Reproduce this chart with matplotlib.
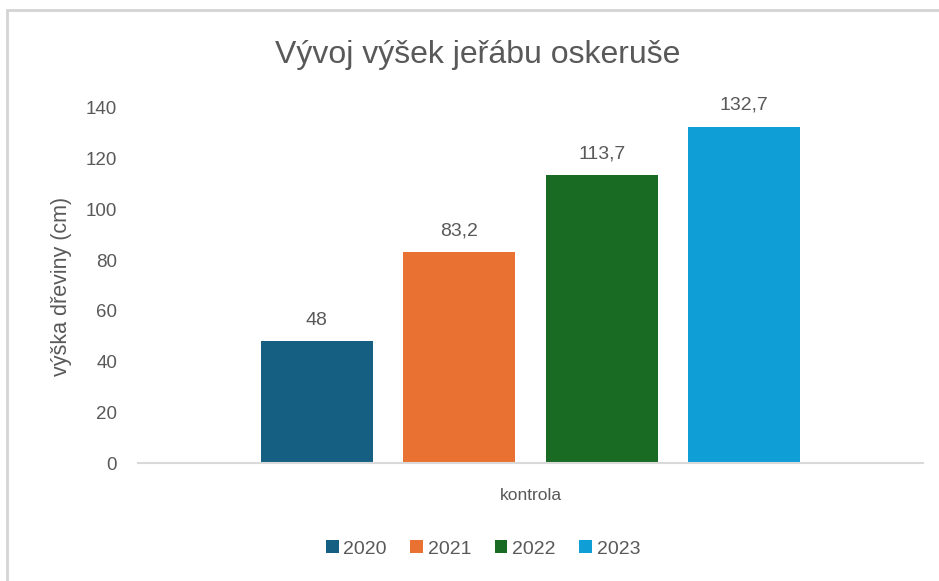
import matplotlib.pyplot as plt
from matplotlib.patches import Rectangle

# data
category = "kontrola"
years = ["2020", "2021", "2022", "2023"]
heights = [48, 83.2, 113.7, 132.7]
labels = ["48", "83,2", "113,7", "132,7"]
colors = ["#156082", "#E97132", "#196B24", "#0F9ED5"]
y_ticks = [0, 20, 40, 60, 80, 100, 120, 140]

TEXT = "#595959"
plt.rcParams['font.family'] = ['Liberation Sans', 'DejaVu Sans']

fig = plt.figure(figsize=(9.39, 5.81), dpi=100)
ax = fig.add_axes([138 / 939, 1 - 463 / 581, 785 / 939, 355 / 581])

# chart frame (only top and left edge visible in the reference)
fig.add_artist(Rectangle((7 / 939, -0.2), 1.2, 1.2 - 10 / 581,
                         transform=fig.transFigure, fill=False,
                         edgecolor="#d4d4d4", linewidth=2))

width = 0.1427
pitch = 0.1815
for i, (yr, h, lab, c) in enumerate(zip(years, heights, labels, colors)):
    x = (i - 1.5) * pitch
    ax.bar(x, h, width=width, color=c, label=yr)
    ax.text(x, h + 5, lab, ha="center", va="bottom", fontsize=14, color=TEXT)

ax.set_xlim(-0.5, 0.5)
ax.set_ylim(0, 140)
ax.set_yticks(y_ticks)
ax.set_yticklabels([str(t) for t in y_ticks], fontsize=13.5, color=TEXT)
ax.tick_params(axis="y", length=0, pad=15)
ax.set_xticks([0])
ax.set_xticklabels([category], fontsize=12.5, color=TEXT)
ax.tick_params(axis="x", length=0, pad=18)

for side in ["top", "right", "left"]:
    ax.spines[side].set_visible(False)
ax.spines["bottom"].set_color("#d9d9d9")
ax.spines["bottom"].set_linewidth(1.5)

ax.set_ylabel("výška dřeviny (cm)", fontsize=15.5, color=TEXT)
ax.yaxis.set_label_coords(-0.084, 0.497)

fig.text(478 / 939, 1 - 55 / 581, "Vývoj výšek jeřábu oskeruše", ha="center",
         va="center", fontsize=23, color=TEXT)

leg = fig.legend(loc="center", bbox_to_anchor=(483 / 939, 1 - 549 / 581), ncol=4,
                 frameon=False, handlelength=0.65, handleheight=0.65,
                 handletextpad=0.25, columnspacing=1.2, prop={'size': 14})
for t in leg.get_texts():
    t.set_color(TEXT)

fig.savefig("out.png", dpi=100, facecolor="white")
